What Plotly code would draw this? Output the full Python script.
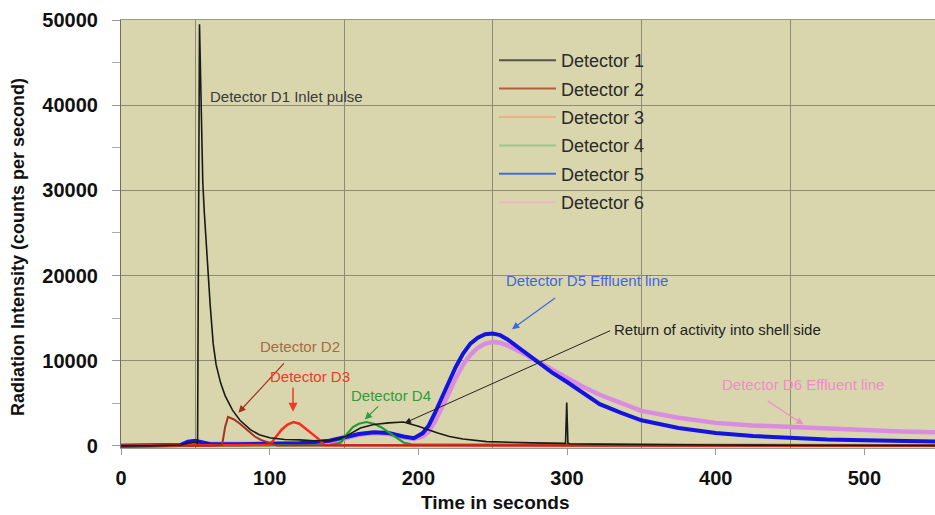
import plotly.graph_objects as go

# ---------------- data ----------------
d1_t = [0, 20, 40, 45, 50, 51.5, 52.8, 53.6, 54.3, 55, 56, 57, 58, 60, 62, 64, 67, 70, 75, 80, 87, 93,
        100, 110, 120, 130, 140, 150, 161, 170, 180, 190, 200, 206, 213, 221, 230, 246, 260, 277,
        299, 299.8, 300.6, 302, 320, 350, 400, 450, 500, 550]
d1_v = [0, 0, 100, 300, 400, 300, 49500, 41000, 36000, 31000, 27500, 24500, 21500, 16500, 12000, 9500,
        7400, 5900, 4200, 3000, 1900, 1300, 950, 750, 700, 600, 600, 1000, 2100, 2500, 2700, 2800,
        2300, 1900, 1500, 1100, 800, 500, 400, 350, 300, 5100, 300, 250, 200, 150, 100, 80, 60, 50]

d2_t = [0, 60, 68, 70, 72, 76, 80, 84, 87, 90, 94, 100, 105, 550]
d2_v = [0, 0, 100, 2200, 3400, 3100, 2600, 2000, 1500, 1100, 700, 300, 50, 0]

d3_t = [0, 100, 104, 108, 112, 116, 120, 125, 130, 133, 137, 550]
d3_v = [0, 100, 1000, 1900, 2500, 2800, 2600, 1900, 1300, 800, 100, 0]

d4_t = [0, 140, 148, 152, 156, 160, 165, 170, 175, 180, 185, 190, 196, 550]
d4_v = [0, 100, 400, 1400, 2200, 2600, 2800, 2600, 2200, 1600, 900, 400, 150, 100]

d56_t = [0, 40, 45, 50, 55, 60, 80, 100, 120, 140, 150, 160, 170, 180, 190, 197, 203, 207, 211, 215,
         220, 225, 230, 235, 240, 245, 250, 255, 260, 270, 280, 290, 300, 310, 322, 336, 350, 375,
         400, 425, 450, 475, 500, 525, 550]
d5_v = [0, 100, 500, 600, 400, 200, 200, 200, 300, 600, 1000, 1400, 1600, 1500, 1100, 900, 1500, 2400,
        3800, 5400, 7300, 9200, 10800, 12000, 12700, 13100, 13200, 13000, 12500, 11200, 9800, 8600,
        7500, 6300, 4900, 3900, 3000, 2100, 1500, 1150, 900, 750, 650, 550, 500]
d6_v = [0, 100, 400, 500, 300, 250, 250, 250, 300, 400, 900, 1300, 1500, 1400, 1000, 800, 1100, 1700,
        2800, 4100, 6000, 7900, 9500, 10700, 11500, 12000, 12200, 12100, 11800, 10900, 9900, 8900,
        8000, 7000, 6000, 5000, 4100, 3300, 2700, 2400, 2200, 2000, 1850, 1700, 1600]

legend_names = ["Detector 1", "Detector 2", "Detector 3", "Detector 4", "Detector 5", "Detector 6"]
legend_colors = ["#55554a", "#b0603a", "#f0ad8e", "#9cc68e", "#4a6ec8", "#f0b6c6"]

x_ticks = [0, 100, 200, 300, 400, 500]
y_ticks = [0, 10000, 20000, 30000, 40000, 50000]

FONT = "Arial, 'Liberation Sans', sans-serif"

fig = go.Figure()

# data traces (drawn back to front)
fig.add_trace(go.Scatter(x=d56_t, y=d6_v, mode="lines", line=dict(color="#d98ce0", width=4.5), showlegend=False))
fig.add_trace(go.Scatter(x=d56_t, y=d5_v, mode="lines", line=dict(color="#1414e0", width=4), showlegend=False))
fig.add_trace(go.Scatter(x=d4_t, y=d4_v, mode="lines", line=dict(color="#1e9e2e", width=2.2), showlegend=False))
fig.add_trace(go.Scatter(x=d3_t, y=d3_v, mode="lines", line=dict(color="#ff2a1f", width=2.5), showlegend=False))
fig.add_trace(go.Scatter(x=d2_t, y=d2_v, mode="lines", line=dict(color="#a8301f", width=2), showlegend=False))
fig.add_trace(go.Scatter(x=d1_t, y=d1_v, mode="lines", line=dict(color="#1a1a1a", width=1.6), showlegend=False))

# legend-only entries
for i, (n, c) in enumerate(zip(legend_names, legend_colors)):
    fig.add_trace(go.Scatter(x=[None], y=[None], mode="lines", name=n, legendgroup=f"g{i}",
                             line=dict(color=c, width=2)))

# ---------------- annotations ----------------
def label(text, x, y, color, xanchor="center"):
    fig.add_annotation(x=x, y=y, text=text, showarrow=False, xanchor=xanchor, yanchor="middle",
                       font=dict(family=FONT, size=15, color=color))

def arrow(x0, y0, x1, y1, color, width=1.2):
    fig.add_annotation(x=x1, y=y1, ax=x0, ay=y0, axref="x", ayref="y", text="", showarrow=True,
                       arrowhead=2, arrowsize=1.2, arrowwidth=width, arrowcolor=color)

label("Detector D1 Inlet pulse", 58.5, 41000, "#3a3a3a", "left")
label("Detector D2", 120.4, 11620, "#a86a45")
arrow(110.5, 9860, 79, 3900, "#a0301f")
label("Detector D3", 127, 8150, "#ec3a2a")
arrow(115.7, 7000, 115.7, 4000, "#ec3a2a", 1.5)
label("Detector D4", 181.6, 5870, "#2e9e3a")
arrow(174, 4810, 164, 3100, "#2e9e3a")
label("Detector D5 Effluent line", 313.4, 19370, "#3f66e0")
arrow(293, 17500, 263, 13700, "#3f66e0")
label("Return of activity into shell side", 330.5, 13620, "#222222", "left")
arrow(330, 13600, 191, 2700, "#222222", 1)
label("Detector D6 Effluent line", 458.6, 7160, "#f08ccb")
arrow(434, 5400, 459, 2500, "#f08ccb")

# axis titles as free text
fig.add_annotation(xref="paper", yref="paper", x=(495 - 121) / 814, y=(448 - 503) / 428,
                   text="<b>Time in seconds</b>", showarrow=False, xanchor="center", yanchor="middle",
                   font=dict(family=FONT, size=19, color="#111111"))
fig.add_annotation(xref="paper", yref="paper", x=(18 - 121) / 814, y=(448 - 247) / 428,
                   text="<b>Radiation Intensity (counts per second)</b>", showarrow=False, textangle=-90,
                   xanchor="center", yanchor="middle", font=dict(family=FONT, size=18, color="#111111"))

grid_col = "#8e8c72"
fig.update_layout(
    width=935, height=515,
    margin=dict(l=121, r=0, t=20, b=67),
    paper_bgcolor="white", plot_bgcolor="#d9d6ad",
    font=dict(family=FONT, color="#111111"),
    legend=dict(x=(494 - 121) / 814, y=(448 - 42) / 428, xanchor="left", yanchor="top",
                bgcolor="rgba(0,0,0,0)", borderwidth=0, itemwidth=57, tracegroupgap=2,
                font=dict(family=FONT, size=18, color="#2a2a2a")),
    xaxis=dict(range=[0, 547.5], tickmode="array", tickvals=x_ticks, ticktext=[str(v) for v in x_ticks],
               showgrid=False, zeroline=False, showline=True, linecolor="#9a9a90", mirror=True,
               ticks="outside", ticklen=6, tickcolor="#999999", ticklabelstandoff=6,
               tickfont=dict(family=FONT, size=20, color="#111111", weight="bold"),
               minor=dict(tickmode="linear", tick0=50, dtick=100, showgrid=True, gridcolor=grid_col,
                          gridwidth=1, ticks="")),
    yaxis=dict(range=[-250, 50000], tickmode="array", tickvals=y_ticks, ticktext=[str(v) for v in y_ticks],
               showgrid=True, gridcolor=grid_col, gridwidth=1, zeroline=False,
               showline=True, linecolor="#6f6f66", linewidth=1.2,
               ticks="outside", ticklen=8, tickcolor="#999999", ticklabelstandoff=10,
               tickfont=dict(family=FONT, size=20, color="#111111", weight="bold"),
               minor=dict(tickmode="linear", tick0=0, dtick=5000, ticks="outside", ticklen=8,
                          tickcolor="#aaaaaa", showgrid=False)),
)

fig.write_html("out.html")
